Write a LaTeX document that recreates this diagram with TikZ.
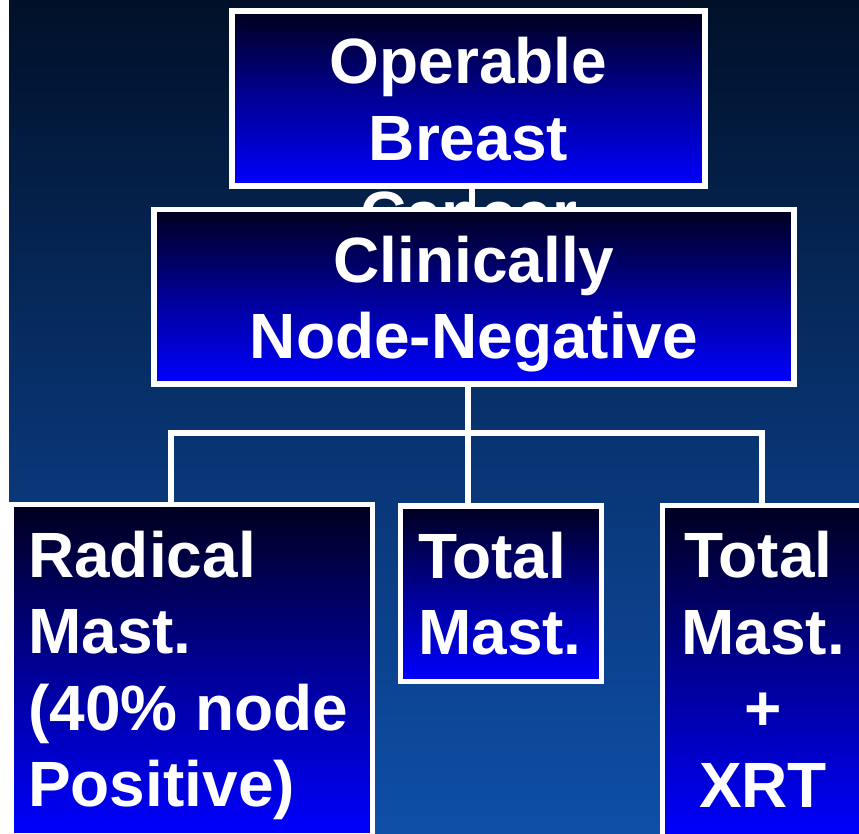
\documentclass[tikz,border=0pt]{standalone}
\usepackage{fontspec}
\setmainfont{Liberation Sans}
\definecolor{bgtop}{RGB}{0,16,40}
\definecolor{bgmid}{RGB}{8,50,110}
\definecolor{bgbot}{RGB}{14,79,168}
\definecolor{boxtop}{RGB}{0,0,30}
\definecolor{boxmid}{RGB}{0,0,150}
\definecolor{boxbot}{RGB}{0,0,255}
\tikzset{
  box/.style={rectangle, draw=white, line width=5.5pt, top color=boxtop, bottom color=boxbot, middle color=boxmid, inner sep=0pt},
  conn/.style={draw=white, line width=6pt},
  lbl/.style={text=white, font=\fontsize{64}{76.5}\selectfont\bfseries, inner sep=0pt},
}
\begin{document}
\begin{tikzpicture}[x=1pt,y=-1pt]
\useasboundingbox (0,0) rectangle (859,834);
\clip (0,0) rectangle (859,834);
% background
\shade[top color=bgtop, bottom color=bgbot, middle color=bgmid] (0,0) rectangle (859,834);
\fill[white] (0,0) rectangle (9,834);
% top box
\node[box, minimum width=473pt, minimum height=175pt] (top) at (468.5,98.5) {};
\node[lbl, align=center, anchor=base] (t1) at (468.5,237) {Operable\\Breast\\Cancer};
\coordinate (tc) at (472,0);
\draw[conn] (top.south -| tc) -- ++(0,22);
% second box
\node[box, minimum width=640pt, minimum height=174.5pt] (cn) at (474,296.75) {};
\node[lbl, align=center, anchor=base] (t2) at (474,358.5) {Clinically\\Node-Negative};
% connectors
\coordinate (j) at (467.5,432.5);
\coordinate (jl) at (170.5,432.5);
\coordinate (jr) at (762,432.5);
% bottom boxes
\node[box, minimum width=361pt, minimum height=331.5pt] (lb) at (192,670.25) {};
\node[box, minimum width=201pt, minimum height=175.5pt] (mb) at (501,593.75) {};
\node[box, minimum width=217.5pt, minimum height=334.5pt] (rb) at (771.25,672.75) {};
\draw[conn] (cn.south -| j) -- (j) -- (mb.north -| j);
\draw[conn] (lb.north -| jl) -- (jl) -- (jr) -- (rb.north -| jr);
\node[lbl, align=left, anchor=base west] (t3) at (28,806.5) {Radical\\Mast.\\(40\% node\\Positive)};
\node[lbl, align=left, anchor=base west] (t4) at (418,654.5) {Total\\Mast.};
\node[lbl, align=center, anchor=base] (t5) at (763,807) {Total\rule{9pt}{0pt}\\Mast.\\+\\XRT};
\end{tikzpicture}
\end{document}
